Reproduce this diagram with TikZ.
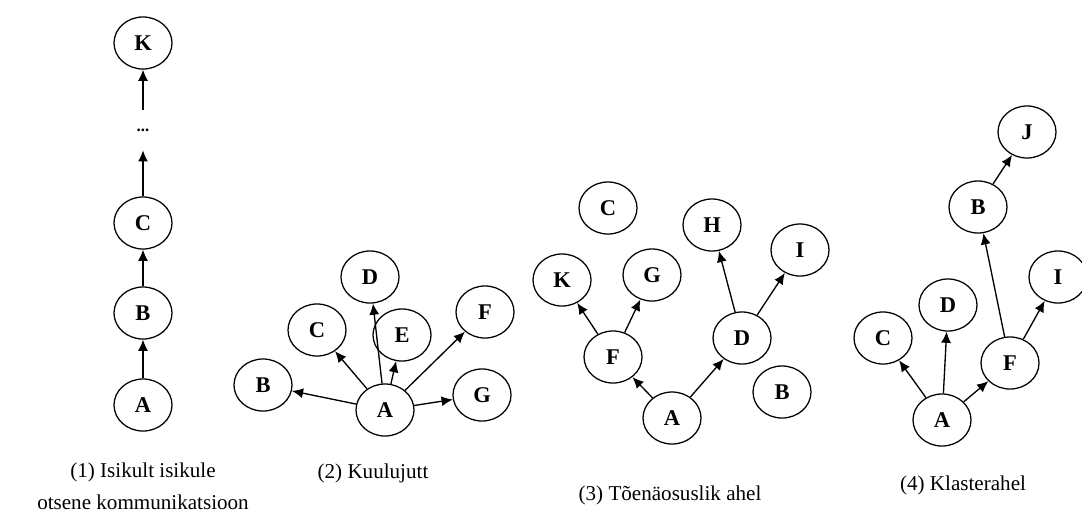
\documentclass[tikz,border=0pt]{standalone}
\usepackage{fontspec}
\setmainfont{Liberation Serif}
\usetikzlibrary{arrows.meta,shapes.geometric}
\tikzset{
  >={Latex[length=2.8mm,width=2.5mm]},
  person/.style={ellipse, draw=black, line width=0.9pt, minimum width=1.45cm,
                 minimum height=1.3cm, inner sep=0pt,
                 font=\fontsize{16}{18}\selectfont\bfseries},
  spread/.style={->, line width=0.95pt, draw=black},
  gapdots/.style={minimum height=1cm, inner sep=0pt, font=\large\bfseries},
  caption/.style={font=\fontsize{15}{22.7}\selectfont, align=center},
}

\begin{document}
\begin{tikzpicture}[x=0.025cm, y=-0.025cm]
  \useasboundingbox (0,0) rectangle (1082,514);

  % ── (1) chain: A -> B -> C -> ... -> K ──
  \node[person] (A1) at (143,405) {A};
  \node[person] (B1) at (143,313) {B};
  \node[person] (C1) at (143,223) {C};
  \node[gapdots] (dots1) at (143,130) {...};
  \node[person] (K1) at (143,43) {K};
  \draw[spread] (A1) -- (B1);
  \draw[spread] (B1) -- (C1);
  \draw[spread] (C1) -- (dots1);
  \draw[spread] (dots1) -- (K1);
  \node[caption] (cap1) at (143,486) {(1) Isikult isikule\\otsene kommunikatsioon};

  % ── (2) one source, everyone else hears it ──
  \node[person] (A2) at (385,410) {A};
  \node[person] (B2) at (263,385) {B};
  \node[person] (C2) at (317,330) {C};
  \node[person] (D2) at (370,277) {D};
  \node[person] (E2) at (402,335) {E};
  \node[person] (F2) at (485,312) {F};
  \node[person] (G2) at (482,395) {G};
  \foreach \t in {B,C,D,E,F,G}
    \draw[spread] (A2) -- (\t2);
  \node[caption] (cap2) at (373,473) {(2) Kuulujutt};

  % ── (3) random passing, C and B left out ──
  \node[person] (A3) at (672,418) {A};
  \node[person] (F3) at (613,357) {F};
  \node[person] (D3) at (742,338) {D};
  \node[person] (K3) at (562,280) {K};
  \node[person] (G3) at (652,275) {G};
  \node[person] (H3) at (712,225) {H};
  \node[person] (I3) at (800,250) {I};
  \node[person] (C3) at (608,208) {C};
  \node[person] (B3) at (782,392) {B};
  \draw[spread] (A3) -- (F3);
  \draw[spread] (A3) -- (D3);
  \draw[spread] (F3) -- (K3);
  \draw[spread] (F3) -- (G3);
  \draw[spread] (D3) -- (H3);
  \draw[spread] (D3) -- (I3);
  \node[caption] (cap3) at (670,495) {(3) Tõenäosuslik ahel};

  % ── (4) cluster chain ──
  \node[person] (A4) at (942,420) {A};
  \node[person] (C4) at (883,338) {C};
  \node[person] (D4) at (948,305) {D};
  \node[person] (F4) at (1010,363) {F};
  \node[person] (I4) at (1058,277) {I};
  \node[person] (B4) at (978,207) {B};
  \node[person] (J4) at (1027,132) {J};
  \draw[spread] (A4) -- (C4);
  \draw[spread] (A4) -- (D4);
  \draw[spread] (A4) -- (F4);
  \draw[spread] (F4) -- (B4);
  \draw[spread] (F4) -- (I4);
  \draw[spread] (B4) -- (J4);
  \node[caption] (cap4) at (963,485) {(4) Klasterahel};
\end{tikzpicture}
\end{document}
